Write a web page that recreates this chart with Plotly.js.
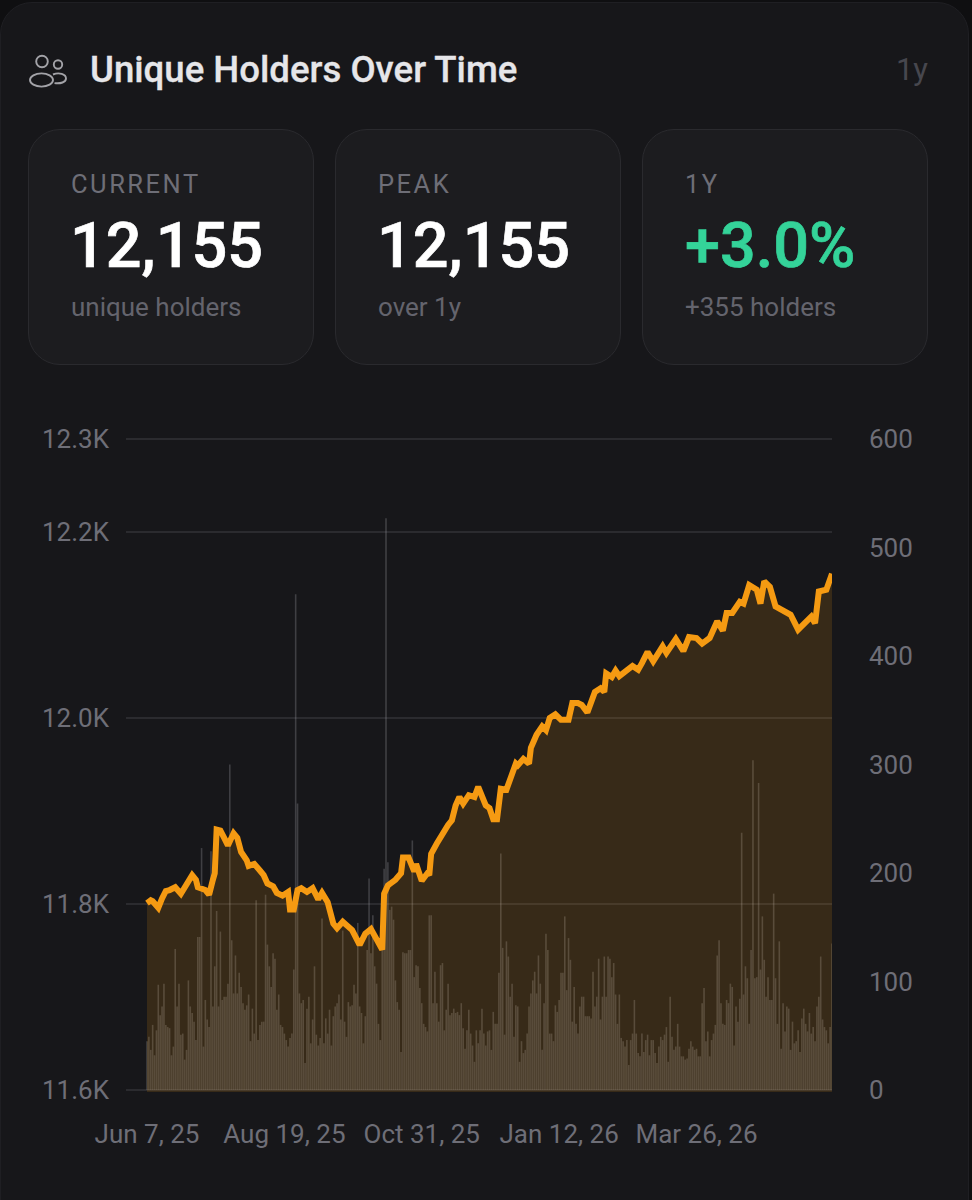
<!DOCTYPE html>
<html>
<head>
<meta charset="utf-8">
<script src="https://cdn.plot.ly/plotly-3.0.1.min.js"></script>
<style>
html,body{margin:0;padding:0;width:972px;height:1200px;background:#0f0f11;overflow:hidden;font-family:Roboto,sans-serif;}
#panel{position:absolute;left:0;top:2px;width:969px;height:1230px;background:#17171a;border:1px solid #1f1f23;border-radius:32px;box-sizing:border-box;}
#icon{position:absolute;left:28px;top:50px;}
#title{position:absolute;left:90px;top:49px;font-size:36.6px;line-height:42px;font-weight:500;color:#e6e6e9;white-space:nowrap;-webkit-text-stroke:0.3px #e6e6e9;}
#range{position:absolute;right:44px;top:53px;font-size:31px;line-height:34px;color:#47474e;}
.card{position:absolute;top:129px;height:236px;box-sizing:border-box;background:#1c1c1f;border:1.5px solid #2a2a2e;border-radius:32px;}
.lab{position:absolute;left:42px;top:39px;font-size:25.5px;line-height:30px;font-weight:400;color:#6e6e77;letter-spacing:2.5px;white-space:nowrap;}
.val{position:absolute;left:41px;top:80px;font-size:63px;line-height:72px;font-weight:500;color:#fff;white-space:nowrap;-webkit-text-stroke:0.7px currentColor;}
.sub{position:absolute;left:42px;top:162px;font-size:26px;line-height:30px;color:#64646d;white-space:nowrap;}
#chart{position:absolute;left:0;top:0;width:972px;height:1200px;}
</style>
</head>
<body>
<div id="panel"></div>
<svg id="icon" width="42" height="42" viewBox="0 0 42 42" fill="none" stroke="#a3a3a8" stroke-width="1.9">
  <circle cx="14" cy="11.5" r="5.8"/>
  <circle cx="30" cy="14.5" r="4.2"/>
  <ellipse cx="13.5" cy="30" rx="11.5" ry="6.6"/>
  <path d="M25 24.5c6-2.5 13-0.5 13 4 0 3.7-5.5 5.4-11.5 4.6"/>
</svg>
<div id="title">Unique Holders Over Time</div>
<div id="range">1y</div>
<div class="card" style="left:28px;width:286px"><div class="lab">CURRENT</div><div class="val">12,155</div><div class="sub">unique holders</div></div>
<div class="card" style="left:335px;width:286px"><div class="lab">PEAK</div><div class="val">12,155</div><div class="sub">over 1y</div></div>
<div class="card" style="left:642px;width:286px"><div class="lab">1Y</div><div class="val" style="color:#34d399;left:42px">+3.0%</div><div class="sub">+355 holders</div></div>
<div id="chart"></div>
<script>
const tickDays = [0, 73, 146, 219, 292];
const tickLabels = ["Jun 7, 25", "Aug 19, 25", "Oct 31, 25", "Jan 12, 26", "Mar 26, 26"];
const holderTicks = [11600, 11800, 12000, 12200, 12300];
const holderTickLabels = ["11.6K", "11.8K", "12.0K", "12.2K", "12.3K"];
const volumeTicks = [0, 100, 200, 300, 400, 500, 600];

const holderDays = [0,2,3,6,8,10,12,15,18,21,24,26,27,31,33,35,36,37,39,41,43,46,48,50,53,54,57,60,62,64,67,69,72,75,76,78,80,82,85,88,91,93,96,99,101,104,109,113,116,119,121,125,126,128,132,135,136,139,142,143,146,149,150,151,154,157,160,162,164,166,168,171,174,176,178,180,182,184,186,188,191,193,196,197,200,203,204,207,210,212,214,217,220,224,226,229,231,234,238,241,243,244,247,249,251,258,261,263,266,269,274,276,281,285,288,292,295,299,303,306,308,311,315,317,320,324,326,328,331,334,338,342,346,350,353,355,357,361,364];
const holderValues = [11801,11804,11803,11796,11806,11814,11815,11818,11811,11820,11831,11826,11818,11815,11810,11826,11833,11880,11879,11871,11863,11876,11871,11856,11847,11841,11843,11836,11831,11822,11819,11812,11809,11813,11794,11794,11815,11817,11813,11817,11805,11812,11802,11779,11774,11781,11772,11756,11768,11773,11765,11751,11811,11820,11826,11833,11850,11850,11835,11843,11825,11833,11831,11854,11865,11876,11885,11890,11906,11915,11908,11917,11915,11926,11917,11906,11903,11891,11891,11924,11923,11933,11951,11949,11956,11951,11968,11982,11991,11987,12000,12004,11998,11998,12016,12016,12014,12006,12028,12032,12028,12048,12044,12051,12045,12056,12052,12059,12071,12061,12077,12070,12085,12072,12087,12086,12080,12086,12104,12094,12113,12113,12125,12123,12143,12138,12123,12147,12141,12120,12116,12111,12095,12102,12109,12102,12136,12138,12155];

const dailyVolume = [45,49,37,60,32,55,97,69,77,98,60,58,57,32,40,130,77,98,51,52,28,37,101,77,71,63,46,141,141,223,40,83,65,58,220,77,114,165,77,146,83,86,86,98,300,138,89,124,89,108,95,80,74,78,88,45,75,52,175,46,60,63,63,180,134,114,95,126,121,74,88,60,58,52,46,40,48,52,111,457,264,89,80,83,25,75,86,43,65,114,51,41,48,158,43,66,52,74,41,68,77,80,88,65,147,63,49,81,77,78,97,89,154,77,71,43,68,129,195,126,161,114,98,61,46,129,204,527,210,166,169,157,101,81,74,35,127,126,126,129,129,230,104,115,114,94,80,61,58,54,161,161,80,109,80,63,115,117,55,74,98,69,71,75,71,72,69,80,57,38,55,74,52,41,26,55,43,55,75,52,41,54,55,37,72,61,61,108,218,131,51,137,123,86,98,49,78,77,26,45,34,37,52,77,89,101,109,89,124,98,37,80,144,129,52,52,45,78,72,83,108,108,160,92,140,120,63,95,61,52,77,86,86,68,68,68,66,109,77,86,121,65,86,123,86,123,121,104,117,88,61,88,48,45,40,46,23,46,52,83,52,34,31,52,35,46,51,32,46,46,34,25,40,49,46,51,58,26,86,49,37,40,61,40,31,31,28,29,38,45,40,37,38,31,31,80,94,45,54,31,46,52,60,124,138,80,61,60,83,80,98,95,41,77,63,84,237,88,114,103,61,129,304,103,104,283,111,160,120,86,104,83,83,181,103,61,137,38,80,54,77,75,37,63,43,45,55,35,66,75,61,54,71,52,58,45,77,86,123,65,58,55,43,58,135];
const volumeDays = dailyVolume.map((_, i) => i);

const tickFont = {family: "Roboto, sans-serif", size: 26, color: "#6e6e77"};

Plotly.newPlot("chart", [
  {type: "bar", x: volumeDays, y: dailyVolume, yaxis: "y",
   marker: {color: "rgba(172,172,180,0.27)", line: {width: 0}}, hoverinfo: "skip"},
  {type: "scatter", mode: "lines", x: holderDays, y: holderValues, yaxis: "y2",
   line: {color: "#f59a12", width: 6}, fill: "tozeroy", fillcolor: "rgba(245,158,11,0.145)",
   cliponaxis: false, hoverinfo: "skip"}
], {
  width: 972, height: 1200,
  margin: {l: 126, r: 140, t: 437, b: 108, pad: 0},
  paper_bgcolor: "rgba(0,0,0,0)", plot_bgcolor: "rgba(0,0,0,0)",
  showlegend: false, bargap: 0.16,
  xaxis: {range: [-11.16, 364], tickmode: "array", tickvals: tickDays, ticktext: tickLabels,
          showgrid: false, zeroline: false, showline: false, ticks: "", tickfont: tickFont,
          ticklabelstandoff: 24},
  yaxis: {side: "right", range: [-1.84, 601.84], tickmode: "array", tickvals: volumeTicks,
          showgrid: false, zeroline: false, showline: false, ticks: "", tickfont: tickFont,
          ticklabelstandoff: 36},
  yaxis2: {overlaying: "y", side: "left", range: [11597.85, 12302.15], tickmode: "array",
           tickvals: holderTicks, ticktext: holderTickLabels, showgrid: true,
           gridcolor: "#2b2b2f", gridwidth: 2, zeroline: false, showline: false, ticks: "",
           tickfont: tickFont, ticklabelstandoff: 16}
}, {displayModeBar: false, staticPlot: true});
</script>
</body>
</html>
